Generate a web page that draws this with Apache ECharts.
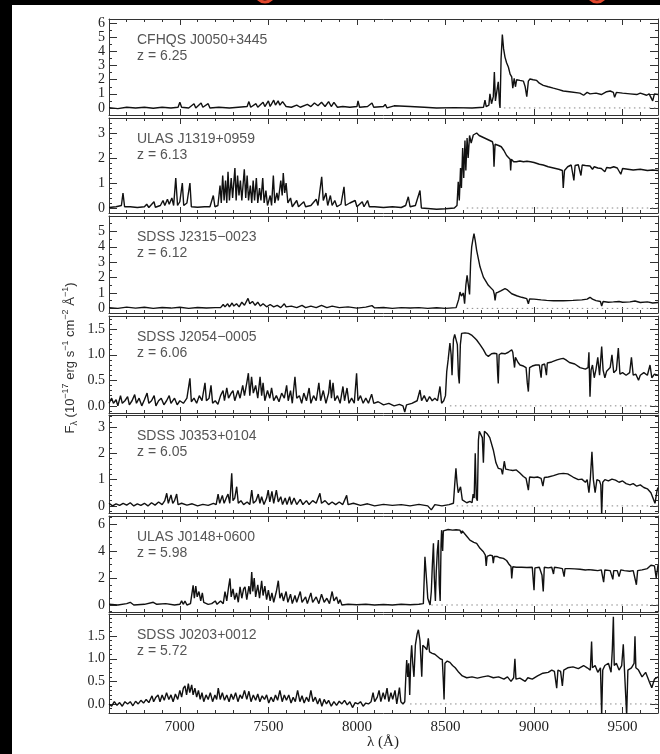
<!DOCTYPE html>
<html><head><meta charset="utf-8">
<script src="https://cdn.jsdelivr.net/npm/echarts@6/dist/echarts.min.js"></script>
<style>html,body{margin:0;padding:0;background:#fff}#c{width:660px;height:754px}</style>
</head><body><div id="c"></div>
<script>
// ---------------- data ----------------
const quasarNames = ['CFHQS J0050+3445','ULAS J1319+0959','SDSS J2315\u22120023','SDSS J2054\u22120005','SDSS J0353+0104','ULAS J0148+0600','SDSS J0203+0012'];
const redshifts = ['6.25','6.13','6.12','6.06','6.05','5.98','5.72'];
const xTickLabels = [7000,7500,8000,8500,9000,9500];
const yTicks1 = [0,1,2,3,4,5,6];
const yTicks2 = [0,1,2,3];
const yTicks3 = [0,1,2,3,4,5];
const yTicks4 = [0,0.5,1.0,1.5];
const yTicks5 = [0,1,2,3];
const yTicks6 = [0,2,4,6];
const yTicks7 = [0,0.5,1.0,1.5];
const zeroLineStart = [8830,8620,8620,8525,8563,8420,8300];

const spec1 = [[6600,0.02],[6650,-0.05],[6700,0.05],[6750,0],[6800,0.05],[6850,-0.02],[6900,0.05],[6950,0],[6990,0.05],[7000,0.4],[7010,0.05],[7050,0],[7080,0.3],[7090,0],[7120,0.35],[7130,0.05],[7160,0.3],[7170,0],[7220,0.05],[7280,0],[7330,0.05],[7380,0.1],[7390,0.45],[7400,0.05],[7430,0.3],[7440,0.05],[7470,0.4],[7480,0.1],[7500,0.5],[7510,0.1],[7530,0.55],[7540,0.2],[7555,0.5],[7565,0.2],[7580,0.45],[7600,0.1],[7630,0.05],[7660,0.2],[7680,0.05],[7720,0.25],[7740,0.1],[7760,0.35],[7780,0.15],[7800,0.4],[7820,0.1],[7840,0.45],[7855,0.1],[7870,0.4],[7890,0.05],[7920,0.1],[7960,0.05],[8000,0.1],[8006,0.5],[8015,0.05],[8060,0.1],[8085,0.35],[8095,0.05],[8150,0.1],[8160,0.25],[8170,0],[8210,0.15],[8220,0.02],[8300,0.1],[8380,0.05],[8450,0],[8550,0.02],[8650,0],[8715,0.05],[8723,0.55],[8730,0.1],[8745,0.2],[8751,1.0],[8760,0.3],[8770,0.8],[8776,2.55],[8782,0.5],[8790,0.6],[8798,1.85],[8805,0.3],[8808,0.0],[8814,3.5],[8821,5.2],[8828,4.2],[8836,3.6],[8845,3.2],[8855,2.9],[8865,2.4],[8874,2.2],[8880,1.4],[8888,2.1],[8895,1.5],[8902,2.0],[8920,1.95],[8940,1.9],[8950,1.5],[8959,0.8],[8968,1.9],[8977,2.05],[8995,2.0],[9015,1.95],[9030,1.75],[9052,1.6],[9080,1.5],[9109,1.4],[9140,1.3],[9165,1.2],[9200,1.15],[9259,1.05],[9280,0.9],[9300,1.1],[9316,1.0],[9350,1.05],[9380,0.95],[9410,1.15],[9430,1.2],[9448,1.1],[9455,0.75],[9465,1.1],[9500,1.05],[9542,1.0],[9580,0.95],[9600,1.05],[9636,0.9],[9650,1.0],[9670,0.5],[9680,1.0],[9700,0.95]];

const spec2 = [[6600,0.02],[6640,0.05],[6670,0.1],[6679,0.6],[6688,0.05],[6720,0.05],[6760,0.02],[6800,0.05],[6813,0.15],[6825,0.02],[6854,0.25],[6862,0.03],[6890,0.1],[6905,0.3],[6915,0.1],[6930,0.35],[6940,0.15],[6955,0.4],[6965,0.1],[6977,1.2],[6987,0.1],[7000,0.25],[7014,1.0],[7022,0.1],[7040,0.2],[7057,1.0],[7065,0.05],[7100,0.03],[7140,0.05],[7170,0.05],[7189,0.5],[7198,0.05],[7215,0.1],[7227,0.9],[7234,0.2],[7242,1.3],[7250,0.3],[7258,1.1],[7265,0.2],[7272,1.45],[7280,0.3],[7290,1.2],[7298,0.4],[7311,1.6],[7318,0.3],[7326,1.3],[7334,0.5],[7342,1.1],[7350,0.3],[7364,1.55],[7372,0.4],[7380,1.3],[7388,0.3],[7398,0.9],[7406,0.2],[7414,1.1],[7422,0.3],[7432,1.2],[7440,0.2],[7450,0.8],[7458,0.3],[7468,1.2],[7476,0.2],[7486,0.7],[7495,0.1],[7510,0.5],[7518,0.1],[7528,1.3],[7536,0.2],[7548,0.6],[7556,0.3],[7570,1.1],[7578,0.5],[7584,1.4],[7592,0.6],[7600,1.0],[7610,0.2],[7625,0.4],[7635,0.05],[7660,0.3],[7670,0.05],[7700,0.25],[7710,0.05],[7740,0.1],[7770,0.35],[7780,0.1],[7801,1.25],[7810,0.3],[7825,0.6],[7835,0.1],[7850,0.5],[7860,0.1],[7875,0.3],[7887,0.05],[7910,0.15],[7927,0.85],[7935,0.1],[7960,0.2],[7990,0.3],[8000,0.05],[8030,0.25],[8040,0.05],[8060,0.3],[8070,0.05],[8100,0.05],[8150,0.02],[8200,0.05],[8250,0.02],[8275,0.1],[8290,0.45],[8300,0.05],[8330,0.1],[8356,0.7],[8364,0.0],[8400,-0.02],[8450,-0.05],[8500,-0.03],[8550,0.0],[8565,0.1],[8572,1.05],[8578,0.3],[8585,1.6],[8590,0.8],[8597,2.4],[8603,1.2],[8610,2.7],[8615,1.5],[8622,2.8],[8628,2.0],[8636,2.9],[8645,2.6],[8657,2.92],[8676,3.0],[8690,2.9],[8705,2.85],[8720,2.8],[8735,2.75],[8750,2.7],[8765,2.65],[8770,2.5],[8774,1.65],[8780,2.55],[8789,2.6],[8800,2.5],[8815,2.45],[8830,2.3],[8845,2.1],[8855,2.05],[8865,1.95],[8868,1.5],[8872,1.95],[8885,1.85],[8900,1.85],[8920,1.88],[8940,1.85],[8960,1.87],[8980,1.85],[9000,1.82],[9030,1.75],[9052,1.72],[9080,1.65],[9110,1.6],[9140,1.55],[9160,1.5],[9165,0.8],[9172,1.5],[9190,1.65],[9210,1.72],[9225,1.1],[9232,1.7],[9250,1.73],[9265,1.3],[9272,1.72],[9290,1.7],[9316,1.68],[9330,1.55],[9340,1.65],[9360,1.6],[9380,1.58],[9400,1.45],[9410,1.62],[9430,1.6],[9450,1.65],[9470,1.6],[9490,1.35],[9500,1.58],[9530,1.55],[9560,1.52],[9600,1.55],[9640,1.5],[9670,1.52],[9700,1.5]];

const spec3 = [[6600,0.05],[6650,0.0],[6700,0.08],[6750,0.02],[6800,0.07],[6850,0.0],[6900,0.06],[6950,0.02],[7000,0.07],[7050,0.0],[7100,0.06],[7150,0.02],[7200,0.05],[7230,0.05],[7245,0.25],[7255,0.1],[7270,0.3],[7280,0.1],[7295,0.35],[7305,0.15],[7320,0.3],[7335,0.1],[7350,0.4],[7365,0.2],[7385,0.65],[7395,0.3],[7410,0.45],[7425,0.2],[7440,0.4],[7455,0.15],[7470,0.3],[7490,0.1],[7510,0.25],[7530,0.1],[7550,0.2],[7570,0.05],[7590,0.3],[7600,0.1],[7630,0.15],[7660,0.05],[7690,0.2],[7710,0.05],[7740,0.15],[7770,0.05],[7800,0.2],[7830,0.05],[7860,0.15],[7900,0.05],[7950,0.1],[8000,0.02],[8050,0.08],[8085,0.18],[8100,0.03],[8150,0.06],[8200,0.0],[8250,0.05],[8300,0.02],[8350,0.05],[8400,0.0],[8450,0.04],[8500,0.0],[8560,0.05],[8575,0.6],[8582,1.06],[8590,0.8],[8601,1.0],[8608,0.3],[8615,1.5],[8622,2.14],[8629,2.2],[8636,0.9],[8642,3.0],[8648,4.0],[8655,4.5],[8661,4.85],[8668,4.4],[8676,3.77],[8695,2.7],[8714,2.03],[8742,1.5],[8770,1.17],[8776,0.9],[8780,0.52],[8786,1.0],[8798,1.05],[8815,1.15],[8836,1.28],[8850,1.2],[8874,0.95],[8902,0.82],[8930,0.72],[8959,0.63],[8968,0.3],[8975,0.62],[9000,0.6],[9040,0.55],[9071,0.52],[9110,0.5],[9165,0.5],[9220,0.52],[9270,0.55],[9300,0.6],[9316,0.72],[9330,0.6],[9350,0.5],[9375,0.45],[9382,0.15],[9390,0.45],[9420,0.4],[9448,0.42],[9480,0.45],[9500,0.4],[9542,0.42],[9570,0.48],[9600,0.38],[9640,0.42],[9670,0.35],[9700,0.38]];

const spec4 = [[6600,0.05],[6615,0.15],[6625,0.05],[6640,0.12],[6650,0.0],[6665,0.2],[6675,0.05],[6690,0.1],[6705,0.18],[6715,0.02],[6730,0.1],[6745,0.22],[6755,0.05],[6770,0.15],[6785,0.0],[6800,0.12],[6815,0.25],[6825,0.05],[6840,0.1],[6855,0.2],[6865,0.0],[6880,0.1],[6895,0.15],[6910,0.02],[6925,0.1],[6940,0.2],[6950,0.05],[6970,0.15],[6985,0.02],[7000,0.1],[7020,0.05],[7040,0.15],[7057,0.54],[7065,0.08],[7080,0.15],[7095,0.05],[7110,0.2],[7125,0.1],[7142,0.45],[7150,0.1],[7165,0.15],[7176,0.4],[7185,0.05],[7200,0.1],[7215,0.03],[7230,0.2],[7244,0.3],[7252,0.1],[7265,0.35],[7275,0.15],[7290,0.25],[7300,0.3],[7310,0.1],[7328,0.3],[7340,0.15],[7355,0.4],[7365,0.2],[7378,0.45],[7387,0.64],[7395,0.2],[7405,0.57],[7415,0.25],[7428,0.4],[7440,0.15],[7453,0.57],[7462,0.2],[7470,0.45],[7480,0.1],[7495,0.3],[7508,0.15],[7518,0.35],[7530,0.1],[7545,0.2],[7560,0.08],[7575,0.25],[7590,0.15],[7603,0.4],[7612,0.1],[7625,0.3],[7635,0.05],[7650,0.57],[7660,0.15],[7675,0.2],[7688,0.05],[7700,0.25],[7715,0.1],[7730,0.35],[7740,0.05],[7755,0.2],[7770,0.1],[7785,0.45],[7795,0.1],[7810,0.3],[7825,0.05],[7840,0.25],[7848,0.51],[7856,0.15],[7865,0.45],[7875,0.1],[7890,0.2],[7905,0.05],[7921,0.38],[7930,0.1],[7944,0.35],[7955,0.05],[7970,0.15],[7985,0.05],[7998,0.64],[8006,0.1],[8020,0.2],[8035,0.05],[8050,0.15],[8065,0.05],[8083,0.23],[8095,0.05],[8120,0.08],[8150,0.02],[8180,0.05],[8210,0.0],[8240,0.03],[8260,0.0],[8270,-0.12],[8280,0.02],[8310,0.05],[8340,0.1],[8356,0.31],[8365,0.1],[8380,0.2],[8395,0.08],[8410,0.18],[8425,0.1],[8440,0.15],[8455,0.1],[8469,0.38],[8478,0.05],[8490,0.1],[8500,0.2],[8507,0.67],[8515,0.9],[8525,1.23],[8532,1.0],[8537,0.6],[8545,1.3],[8552,1.4],[8559,1.42],[8567,1.2],[8573,0.6],[8578,0.44],[8584,1.2],[8591,1.42],[8610,1.43],[8630,1.42],[8650,1.38],[8665,1.33],[8676,1.29],[8695,1.2],[8714,1.1],[8730,1.0],[8742,0.97],[8760,1.02],[8775,1.03],[8790,1.02],[8795,0.6],[8798,0.44],[8803,1.0],[8815,1.03],[8836,1.02],[8855,1.05],[8874,1.1],[8880,1.05],[8890,0.75],[8895,0.95],[8910,0.85],[8921,0.8],[8940,0.78],[8955,0.75],[8962,0.45],[8968,0.28],[8975,0.75],[8990,0.78],[9010,0.8],[9030,0.8],[9040,0.55],[9045,0.8],[9060,0.82],[9070,0.6],[9075,0.84],[9100,0.86],[9130,0.9],[9150,0.92],[9165,0.93],[9180,0.9],[9200,0.85],[9230,0.82],[9260,0.75],[9290,0.72],[9305,0.75],[9310,1.05],[9316,0.18],[9322,0.7],[9330,0.8],[9340,0.55],[9350,0.72],[9360,0.95],[9370,0.6],[9382,1.16],[9390,0.7],[9400,0.55],[9410,0.68],[9430,0.75],[9440,1.0],[9450,0.65],[9465,0.7],[9476,1.13],[9485,0.62],[9500,0.65],[9520,0.6],[9540,0.65],[9550,0.95],[9560,0.6],[9575,0.62],[9590,0.5],[9600,0.6],[9620,0.65],[9640,0.6],[9655,0.8],[9665,0.55],[9680,0.62],[9700,0.6]];

const spec5 = [[6600,0.1],[6620,0.0],[6640,0.08],[6660,0.02],[6680,0.1],[6700,0.03],[6720,0.12],[6740,0.0],[6760,0.08],[6780,0.02],[6800,0.1],[6820,0.0],[6840,0.12],[6860,0.03],[6880,0.15],[6900,0.05],[6915,0.2],[6926,0.48],[6935,0.1],[6950,0.42],[6960,0.1],[6970,0.2],[6982,0.45],[6990,0.05],[7010,0.1],[7040,0.03],[7070,0.08],[7100,0.0],[7130,0.06],[7160,0.02],[7190,0.1],[7205,0.05],[7216,0.45],[7225,0.1],[7240,0.4],[7250,0.1],[7262,0.3],[7272,0.45],[7282,0.1],[7293,1.24],[7300,0.2],[7310,0.3],[7321,0.73],[7330,0.1],[7345,0.2],[7360,0.05],[7380,0.15],[7395,0.05],[7406,0.6],[7415,0.1],[7430,0.2],[7443,0.45],[7452,0.1],[7462,0.35],[7475,0.05],[7490,0.3],[7499,0.6],[7508,0.15],[7520,0.55],[7530,0.1],[7545,0.6],[7556,0.15],[7570,0.35],[7580,0.05],[7595,0.3],[7605,0.05],[7620,0.35],[7630,0.05],[7645,0.3],[7660,0.05],[7680,0.25],[7695,0.05],[7715,0.2],[7730,0.05],[7750,0.2],[7770,0.1],[7791,0.48],[7800,0.1],[7820,0.2],[7840,0.05],[7860,0.15],[7880,0.05],[7900,0.15],[7920,0.05],[7942,0.4],[7950,0.05],[7980,0.1],[8020,0.02],[8060,0.08],[8100,0.0],[8150,0.06],[8200,0.02],[8250,0.05],[8300,0.0],[8350,0.06],[8400,0.0],[8420,-0.15],[8440,0.05],[8480,0.0],[8520,0.05],[8545,0.1],[8552,0.8],[8559,1.43],[8565,0.9],[8572,0.5],[8585,0.73],[8595,0.23],[8620,0.12],[8638,0.17],[8650,0.12],[8656,0.45],[8662,0.3],[8668,2.0],[8674,0.3],[8680,0.2],[8686,2.5],[8691,2.84],[8700,2.8],[8708,2.6],[8714,1.64],[8720,2.84],[8735,2.75],[8750,2.6],[8770,2.13],[8785,1.64],[8798,1.43],[8815,1.4],[8822,1.2],[8827,1.45],[8832,1.7],[8840,1.4],[8860,1.37],[8880,1.35],[8900,1.37],[8920,1.25],[8940,1.12],[8955,1.05],[8968,0.6],[8975,1.1],[9000,1.08],[9020,1.1],[9040,1.05],[9050,0.75],[9058,1.08],[9080,1.1],[9110,1.15],[9140,1.22],[9165,1.24],[9190,1.22],[9220,1.1],[9250,1.0],[9270,1.02],[9290,0.9],[9300,1.0],[9310,0.5],[9318,1.05],[9327,2.06],[9335,1.0],[9345,0.5],[9355,1.0],[9370,0.95],[9377,0.8],[9382,-0.34],[9388,0.9],[9400,1.0],[9420,0.95],[9440,1.02],[9460,0.98],[9480,0.9],[9500,0.95],[9520,0.85],[9542,0.8],[9560,0.85],[9580,0.75],[9600,0.8],[9620,0.7],[9640,0.65],[9660,0.5],[9683,0.1],[9695,0.6],[9700,0.7]];

const spec6 = [[6600,0.05],[6650,0.0],[6700,0.1],[6720,0.2],[6740,0.0],[6800,0.05],[6850,0.2],[6870,0.05],[6920,0.1],[6970,0.0],[7000,0.05],[7010,0.3],[7020,0.05],[7029,0.3],[7040,0.0],[7060,0.1],[7075,1.45],[7082,0.5],[7090,1.4],[7098,0.6],[7108,1.0],[7118,0.3],[7127,0.9],[7135,0.2],[7145,0.3],[7160,0.05],[7180,0.1],[7200,0.3],[7210,0.05],[7230,0.3],[7245,0.1],[7255,1.0],[7265,0.3],[7275,1.3],[7283,1.97],[7290,0.6],[7300,1.2],[7310,0.4],[7320,0.9],[7330,0.2],[7340,1.35],[7350,0.5],[7360,1.2],[7368,1.35],[7378,0.4],[7390,1.4],[7398,0.8],[7406,2.44],[7412,1.0],[7420,2.0],[7428,0.6],[7440,1.5],[7450,0.5],[7462,1.8],[7470,0.7],[7480,1.4],[7490,0.4],[7500,1.1],[7510,0.3],[7520,0.9],[7530,0.2],[7545,1.0],[7556,1.8],[7565,0.5],[7575,0.9],[7585,0.3],[7600,1.0],[7610,0.2],[7625,0.8],[7635,0.1],[7650,0.7],[7660,0.2],[7680,1.0],[7690,0.2],[7710,0.6],[7720,0.1],[7740,0.9],[7750,0.2],[7770,0.6],[7785,0.1],[7800,0.8],[7815,0.2],[7830,0.5],[7845,0.1],[7860,1.0],[7870,0.3],[7885,0.6],[7895,0.1],[7905,0.4],[7915,0.0],[7950,0.05],[8000,0.02],[8050,0.05],[8100,0.0],[8150,0.04],[8200,0.0],[8250,0.05],[8300,0.02],[8350,0.05],[8375,0.1],[8380,2.0],[8384,3.58],[8388,2.84],[8395,1.5],[8400,0.5],[8413,0.0],[8420,1.0],[8426,3.0],[8432,4.57],[8437,2.0],[8443,0.3],[8448,2.5],[8454,4.0],[8460,4.81],[8465,1.5],[8470,0.3],[8475,4.5],[8478,5.55],[8484,4.0],[8488,5.5],[8497,5.55],[8515,5.6],[8540,5.55],[8560,5.58],[8582,5.55],[8590,5.3],[8595,5.5],[8601,5.4],[8620,5.1],[8638,4.81],[8660,4.65],[8676,4.57],[8695,4.2],[8714,3.95],[8725,3.7],[8730,2.9],[8735,3.6],[8752,3.7],[8765,3.65],[8770,3.1],[8775,3.6],[8790,3.6],[8808,3.5],[8827,3.46],[8845,3.3],[8860,3.0],[8870,2.85],[8874,1.97],[8880,2.84],[8900,2.8],[8930,2.8],[8960,2.78],[8990,2.8],[8997,1.6],[9000,1.1],[9005,2.75],[9030,2.8],[9045,2.2],[9052,1.0],[9058,2.8],[9080,2.75],[9100,2.8],[9110,2.3],[9115,2.8],[9140,2.75],[9160,2.7],[9170,2.1],[9175,2.7],[9200,2.7],[9230,2.68],[9260,2.65],[9290,2.6],[9310,2.62],[9330,2.6],[9360,2.55],[9380,2.6],[9393,1.7],[9400,2.6],[9430,2.55],[9445,1.9],[9450,2.55],[9470,2.55],[9480,2.1],[9490,2.6],[9510,2.55],[9540,2.5],[9560,2.55],[9578,1.5],[9585,2.55],[9610,2.6],[9640,2.7],[9660,2.95],[9680,2.9],[9690,2.0],[9700,2.95]];

const spec7 = [[6600,0.0],[6615,-0.05],[6630,0.05],[6645,-0.03],[6660,0.03],[6675,-0.05],[6690,0.05],[6705,0.0],[6720,0.05],[6735,-0.04],[6750,0.06],[6765,0.0],[6780,0.08],[6795,0.02],[6810,0.1],[6825,0.03],[6843,0.18],[6852,0.05],[6865,0.15],[6877,0.2],[6888,0.05],[6900,0.2],[6912,0.08],[6925,0.25],[6938,0.1],[6950,0.2],[6962,0.05],[6975,0.22],[6988,0.1],[7000,0.3],[7010,0.15],[7020,0.35],[7029,0.4],[7038,0.2],[7048,0.45],[7056,0.25],[7067,0.42],[7075,0.2],[7085,0.35],[7095,0.15],[7105,0.3],[7115,0.1],[7125,0.25],[7135,0.05],[7148,0.2],[7160,0.1],[7172,0.25],[7185,0.05],[7198,0.2],[7208,0.1],[7217,0.35],[7228,0.1],[7240,0.25],[7252,0.08],[7265,0.2],[7278,0.05],[7290,0.22],[7302,0.1],[7315,0.25],[7328,0.05],[7340,0.2],[7352,0.12],[7365,0.3],[7378,0.1],[7390,0.28],[7402,0.05],[7415,0.2],[7428,0.08],[7440,0.22],[7452,0.05],[7465,0.18],[7478,0.1],[7490,0.2],[7502,0.02],[7515,0.15],[7528,0.05],[7540,0.2],[7552,0.08],[7565,0.3],[7578,0.05],[7590,0.2],[7602,0.08],[7615,0.2],[7628,0.02],[7640,0.15],[7652,0.05],[7665,0.3],[7678,0.05],[7690,0.18],[7702,0.02],[7715,0.15],[7728,0.05],[7740,0.3],[7752,0.05],[7765,0.15],[7778,0.0],[7790,0.12],[7802,-0.05],[7815,0.1],[7828,0.0],[7840,0.08],[7855,-0.05],[7870,0.05],[7885,-0.03],[7900,0.06],[7915,0.0],[7930,0.08],[7945,-0.02],[7960,0.05],[7975,-0.08],[7990,0.03],[8005,0.0],[8020,0.05],[8035,-0.05],[8050,0.02],[8065,0.0],[8080,0.05],[8091,0.25],[8100,0.05],[8115,0.15],[8125,0.3],[8135,0.05],[8148,0.25],[8158,0.1],[8170,0.35],[8180,0.05],[8192,0.25],[8202,0.1],[8215,0.3],[8225,0.0],[8240,0.36],[8248,0.05],[8260,0.0],[8270,0.05],[8276,0.6],[8281,0.97],[8287,0.6],[8292,0.9],[8298,0.2],[8304,1.0],[8309,1.3],[8315,0.9],[8322,0.6],[8330,1.3],[8340,1.55],[8347,1.64],[8356,1.4],[8362,1.38],[8366,0.6],[8372,1.3],[8385,1.25],[8395,1.2],[8403,1.45],[8410,1.15],[8425,1.12],[8440,1.1],[8455,1.05],[8470,1.0],[8482,0.98],[8488,0.5],[8492,0.1],[8497,0.9],[8510,0.95],[8525,0.92],[8540,0.85],[8555,0.8],[8575,0.7],[8595,0.62],[8620,0.58],[8650,0.6],[8680,0.57],[8710,0.6],[8740,0.62],[8770,0.58],[8800,0.6],[8830,0.55],[8850,0.6],[8870,0.5],[8885,0.58],[8892,1.0],[8898,0.55],[8920,0.57],[8950,0.5],[8965,0.58],[8990,0.55],[9020,0.62],[9050,0.68],[9080,0.7],[9100,0.75],[9115,0.72],[9128,0.35],[9135,0.75],[9150,0.72],[9160,0.4],[9168,0.75],[9190,0.8],[9220,0.82],[9250,0.78],[9280,0.85],[9300,0.8],[9318,0.75],[9325,1.38],[9330,0.8],[9345,0.85],[9360,0.7],[9375,0.8],[9382,-0.25],[9388,0.75],[9400,0.85],[9420,0.9],[9435,0.7],[9442,1.2],[9448,1.93],[9453,0.85],[9465,0.9],[9480,0.75],[9495,0.85],[9504,1.32],[9510,0.8],[9523,-0.25],[9530,0.75],[9550,0.8],[9565,0.9],[9570,1.5],[9575,0.8],[9590,0.75],[9610,0.6],[9630,0.7],[9650,0.5],[9665,0.36],[9680,0.55],[9700,0.6]];

// ---------------- layout ----------------
const spectra = [spec1,spec2,spec3,spec4,spec5,spec6,spec7];
const yTickSets = [yTicks1,yTicks2,yTicks3,yTicks4,yTicks5,yTicks6,yTicks7];
const panelTop    = [19,118,216,316,415,516,614];
const panelBottom = [115,213,313,413,513,612,713];
const yRange = [[-0.5,6.3],[-0.2,3.6],[-0.3,6.0],[-0.14,1.76],[-0.27,3.46],[-0.52,6.6],[-0.2,1.99]];
const yMinorStep = [0.5,0.2,0.5,0.1,0.2,0.5,0.1];
const yDecimals = [0,0,0,1,0,0,1];
const X_MIN = 6600, X_MAX = 9700;

function stepValues(min, max, step){
  const out=[]; const k0=Math.ceil(min/step-1e-9), k1=Math.floor(max/step+1e-9);
  for(let k=k0;k<=k1;k++) out.push(Math.round(k*step*1000)/1000);
  return out;
}
const xMinor = stepValues(X_MIN, X_MAX, 100);
const lineCol = '#333';
const grids=[], xAxes=[], yAxes=[], series=[], graphics=[];

spectra.forEach((sp,i)=>{
  grids.push({left:109, width:549, top:panelTop[i], height:panelBottom[i]-panelTop[i]});
  const xb = {type:'value', gridIndex:i, min:X_MIN, max:X_MAX, splitLine:{show:false}};
  ['bottom','top'].forEach(pos=>{
    xAxes.push(Object.assign({}, xb, {position:pos,
      axisLine:{show:true,onZero:false,lineStyle:{color:lineCol,width:1}},
      axisTick:{show:true,inside:true,length:3,customValues:xMinor,lineStyle:{color:lineCol}},
      axisLabel:{show:false}}));
    const showLab = (pos==='bottom' && i===spectra.length-1);
    xAxes.push(Object.assign({}, xb, {position:pos,
      axisLine:{show:false,onZero:false},
      axisTick:{show:true,inside:true,length:6,customValues:xTickLabels,lineStyle:{color:lineCol}},
      axisLabel: showLab ? {show:true,customValues:xTickLabels,margin:7,fontFamily:'Liberation Serif',fontSize:15,color:'#222',
        formatter:v=>String(Math.round(v))} : {show:false}}));
  });
  const yb = {type:'value', gridIndex:i, min:yRange[i][0], max:yRange[i][1], splitLine:{show:false}};
  const minorVals = stepValues(yRange[i][0], yRange[i][1], yMinorStep[i]);
  const dec = yDecimals[i];
  ['left','right'].forEach(pos=>{
    yAxes.push(Object.assign({}, yb, {position:pos,
      axisLine:{show:true,onZero:false,lineStyle:{color:lineCol,width:1}},
      axisTick:{show:true,inside:true,length:3,customValues:minorVals,lineStyle:{color:lineCol}},
      axisLabel:{show:false}}));
    yAxes.push(Object.assign({}, yb, {position:pos,
      axisLine:{show:false,onZero:false},
      axisTick:{show:true,inside:true,length:8,customValues:yTickSets[i],lineStyle:{color:lineCol}},
      axisLabel: pos==='left' ? {show:true,customValues:yTickSets[i],margin:4,fontFamily:'Liberation Serif',fontSize:14,color:'#222',
        formatter:v=>Number(v).toFixed(dec)} : {show:false}}));
  });
  series.push({type:'line', xAxisIndex:4*i, yAxisIndex:4*i, data:[[zeroLineStart[i],0],[X_MAX,0]],
    showSymbol:false, silent:true, lineStyle:{color:'#888',width:1,type:[1.5,3.5]}, z:1});
  series.push({type:'line', xAxisIndex:4*i, yAxisIndex:4*i, data:sp, showSymbol:false, silent:true,
    clip:true, lineStyle:{color:'#111',width:1.4}, z:2});
  graphics.push({type:'text', x:137, y:panelTop[i]+21, style:{text:quasarNames[i], font:'14px "Liberation Sans", Arial, sans-serif', fill:'#555', textVerticalAlign:'middle', verticalAlign:'middle'}});
  graphics.push({type:'text', x:137, y:panelTop[i]+37, style:{text:'z = '+redshifts[i], font:'14px "Liberation Sans", Arial, sans-serif', fill:'#555', textVerticalAlign:'middle', verticalAlign:'middle'}});
});

graphics.push({type:'rect', shape:{x:0,y:0,width:12,height:754}, style:{fill:'#000'}, z:10});
graphics.push({type:'rect', shape:{x:0,y:0,width:660,height:5}, style:{fill:'#000'}, z:10});
graphics.push({type:'circle', shape:{cx:265,cy:-7,r:9}, style:{fill:'none',stroke:'#e2472d',lineWidth:3}, z:11});
graphics.push({type:'circle', shape:{cx:597,cy:-7,r:9}, style:{fill:'none',stroke:'#e2472d',lineWidth:3}, z:11});
graphics.push({type:'text', x:383, y:742, style:{text:'\u03bb (\u00c5)', font:'15px "Liberation Serif", serif', fill:'#222', textAlign:'center', align:'center', textVerticalAlign:'middle', verticalAlign:'middle'}});
graphics.push({type:'text', x:70, y:358, rotation:Math.PI/2,
  style:{text:'F{sub|\u03bb} (10{sup|\u221217} erg s{sup|\u22121} cm{sup|\u22122} \u00c5{sup|\u22121})',
    font:'13px "Liberation Sans", Arial, sans-serif', fill:'#333', lineHeight:18,
    textAlign:'center', align:'center', textVerticalAlign:'middle', verticalAlign:'middle',
    rich:{sub:{fontSize:9,lineHeight:9,verticalAlign:'bottom',fill:'#333'}, sup:{fontSize:9,lineHeight:9,verticalAlign:'top',fill:'#333'}}}});

const chart = echarts.init(document.getElementById('c'), null, {renderer:'canvas'});
chart.setOption({animation:false, backgroundColor:'#fff', grid:grids, xAxis:xAxes, yAxis:yAxes, series:series, graphic:graphics});
</script>
</body></html>
